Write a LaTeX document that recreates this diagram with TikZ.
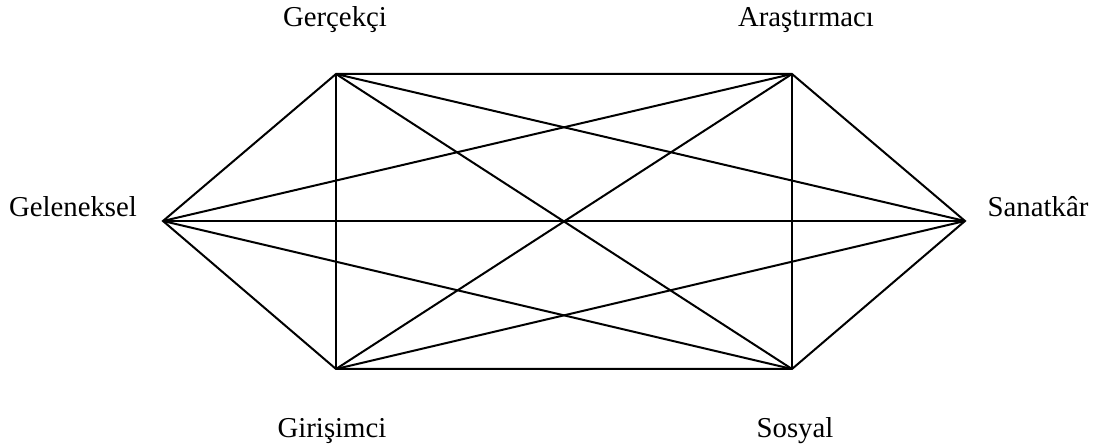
\documentclass[tikz,border=0pt]{standalone}
\usepackage{fontspec}
\setmainfont{Liberation Serif}
\begin{document}
\begin{tikzpicture}[x=0.5pt, y=-0.5pt, line width=1pt, line join=miter,
    font=\fontsize{14.4}{17}\selectfont,
    lbl/.style={anchor=base, inner sep=0pt}]
  \useasboundingbox (0,0) rectangle (1100,448);
  \coordinate (ger) at (336,74);
  \coordinate (ara) at (792,74);
  \coordinate (san) at (965,221);
  \coordinate (sos) at (792,369);
  \coordinate (gir) at (336,369);
  \coordinate (gel) at (163,221);
  \node[lbl] (tger) at (335,27) {Gerçekçi};
  \node[lbl] (tara) at (806,27) {Araştırmacı};
  \node[lbl] (tgel) at (73,217) {Geleneksel};
  \node[lbl] (tsan) at (1038,217) {Sanatkâr};
  \node[lbl] (tgir) at (332,438) {Girişimci};
  \node[lbl] (tsos) at (795,438) {Sosyal};
  \draw (ger) -- (ara) -- (san) -- (sos) -- (gir) -- (gel) -- cycle;
  \foreach \a/\b in {ger/san, ger/sos, ger/gir, ara/sos, ara/gir, ara/gel,
                     san/gir, san/gel, sos/gel}
    \draw (\a) -- (\b);
\end{tikzpicture}
\end{document}
